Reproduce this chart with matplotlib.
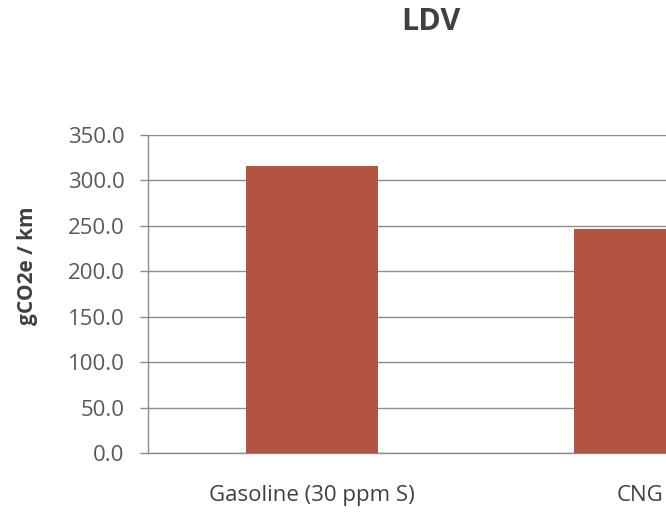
import matplotlib.pyplot as plt
import numpy as np

# Values (visible categories only)
categories = ['Gasoline (30 ppm S)', 'CNG']
emissions = [316.0, 246.0]
y_ticks = [0, 50, 100, 150, 200, 250, 300, 350]

plt.rcParams['font.family'] = ['Open Sans', 'DejaVu Sans']

fig = plt.figure(figsize=(6.66, 5.14), dpi=100)
# axes runs off the right side, like the cropped original
ax = fig.add_axes([148 / 666, 1 - 453 / 514, 1 - 148 / 666, 318 / 514])

x = np.arange(len(categories))
ax.bar(x, emissions, width=0.4, color='#B35440', zorder=3)

ax.set_xlim(-0.5, -0.5 + (666 - 148) / 328)
ax.set_ylim(0, 350)
ax.set_yticks(y_ticks)
ax.set_yticklabels([f'{v:.1f}' for v in y_ticks], fontsize=16, color='#595959')
ax.set_xticks(x)
ax.set_xticklabels(categories, fontsize=16, color='#404040')
ax.tick_params(axis='x', length=0, pad=23)
ax.tick_params(axis='y', length=6, width=1, color='#8c8c8c', pad=11)

ax.grid(axis='y', color='#8c8c8c', linewidth=1, zorder=0)
for side in ['top', 'right']:
    ax.spines[side].set_visible(False)
for side in ['left', 'bottom']:
    ax.spines[side].set_color('#8c8c8c')
    ax.spines[side].set_linewidth(1)

ax.set_ylabel('gCO2e / km', fontsize=15, fontweight='bold', color='#404040')
ax.yaxis.set_label_coords(-0.212, 0.588)
fig.text(431 / 666, 1 - 22 / 514, 'LDV', ha='center', va='center',
         fontsize=22, fontweight='bold', color='#404040')

fig.savefig('out.png', dpi=100)
